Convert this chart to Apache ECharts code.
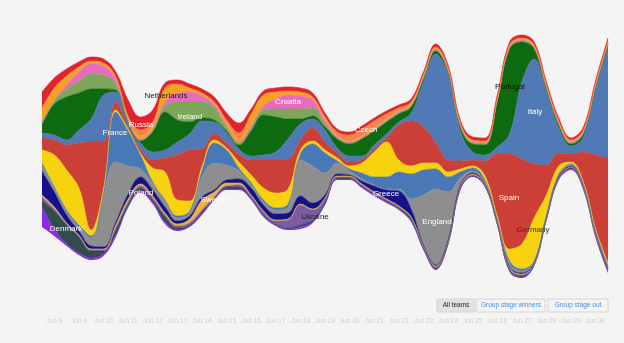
<!DOCTYPE html>
<html><head><meta charset="utf-8">
<script src="https://cdn.jsdelivr.net/npm/echarts@6/dist/echarts.min.js"></script>
<style>html,body{margin:0;padding:0;background:#f4f4f4}#c{width:624px;height:343px}</style>
</head><body><div id="c"></div>
<script>
// time points (half-day steps) and day tick labels
const timePoints = ["Jun 8 00h","Jun 8 12h","Jun 9 00h","Jun 9 12h","Jun 10 00h","Jun 10 12h","Jun 11 00h","Jun 11 12h","Jun 12 00h","Jun 12 12h","Jun 13 00h","Jun 13 12h","Jun 14 00h","Jun 14 12h","Jun 15 00h","Jun 15 12h","Jun 16 00h","Jun 16 12h","Jun 17 00h","Jun 17 12h","Jun 18 00h","Jun 18 12h","Jun 19 00h","Jun 19 12h","Jun 20 00h","Jun 20 12h","Jun 21 00h","Jun 21 12h","Jun 22 00h","Jun 22 12h","Jun 23 00h","Jun 23 12h","Jun 24 00h","Jun 24 12h","Jun 25 00h","Jun 25 12h","Jun 26 00h","Jun 26 12h","Jun 27 00h","Jun 27 12h","Jun 28 00h","Jun 28 12h","Jun 29 00h","Jun 29 12h","Jun 30 00h","Jun 30 12h","Jul 1 00h"];
const dayLabels = ["Jun 8","Jun 9","Jun 10","Jun 11","Jun 12","Jun 13","Jun 14","Jun 15","Jun 16","Jun 17","Jun 18","Jun 19","Jun 20","Jun 21","Jun 22","Jun 23","Jun 24","Jun 25","Jun 26","Jun 27","Jun 28","Jun 29","Jun 30"];

// stream baseline (offset under the bottom layer)
const baseline = [53,44,34,25,20,24,43,73,87,76,56,49,53,65,80,90,90,80,63,54,50,51,57,75,100,100,92,84,77,70,58,30,10,35,90,103,93,55,8,2,14,60,100,110,90,42,7];

// team layers (top to bottom)
const russia      = [16,10,7,5,4,4,5,16,13,12,5,4,4,4,5,7,10,5,4,4,4,4,4,4,3,3,3,3,3,3,3,3,3,3,3,3,3,3,3,3,3,3,3,2,3,3,3];
const czech       = [2,2,1,1,1,1,1,2,6,3,1,1,1,1,1,3,6,2,1,1,1,1,1,2,4,6,7,7,5,3,2,1,1,1,1,1,1,1,1,1,1,1,1,1,1,1,1];
const netherlands = [12,10,8,4,2,2,2,2,3,4,13,8,3,2,2,3,3,10,10,6,3,3,2,2,1,1,1,1,1,1,1,1,1,1,1,1,1,1,1,1,1,1,1,1,1,1,1];
const croatia     = [1,1,4,9,10,9,4,1,1,1,4,9,10,6,3,1,1,2,4,10,14,13,8,3,1,1,1,1,1,1,1,1,1,1,1,1,1,1,1,1,1,1,1,1,1,1,1];
const ireland     = [2,3,8,12,15,14,6,2,1,2,6,18,20,16,12,4,2,3,5,8,10,10,8,3,1,1,1,1,1,1,1,1,1,1,1,1,1,1,1,1,1,1,1,1,1,1,1];
const portugal    = [8,31,43,37,30,6,2,1,2,20,38,22,12,3,2,2,4,25,40,35,20,5,3,3,9,12,17,14,12,8,6,3,3,3,4,8,10,45,85,40,10,3,3,2,3,3,3];
const italy       = [5,5,5,13,23,47,10,3,6,8,8,13,16,28,12,10,5,4,5,8,20,16,9,12,5,6,4,4,4,3,8,45,89,85,30,8,6,7,20,77,105,73,25,8,15,65,110];
const spain       = [12,15,25,45,88,47,8,2,4,8,14,45,51,18,6,5,8,15,28,33,30,10,13,8,5,4,3,3,4,35,45,36,20,12,8,6,15,62,95,85,54,30,13,8,30,74,105];
const germany     = [13,32,40,37,6,3,2,2,2,14,28,16,10,4,3,2,6,8,12,15,15,4,3,3,3,3,10,25,35,12,8,7,6,5,3,2,4,3,12,25,43,20,8,2,2,2,3];
const france      = [3,2,2,2,2,3,50,35,14,2,2,2,2,6,20,15,3,2,2,2,3,6,22,20,2,2,6,8,12,17,25,25,20,15,6,3,2,1,3,2,1,1,1,1,1,1,1];
const england     = [5,3,3,4,8,52,60,28,8,6,5,3,3,20,27,15,8,3,3,4,6,36,37,22,11,4,2,1,1,2,10,50,76,48,7,2,2,2,3,2,1,1,1,1,1,1,1];
const greece      = [24,15,8,4,3,2,3,5,7,6,6,3,3,3,2,3,4,7,6,6,6,8,6,3,2,1,3,6,9,15,8,1,1,1,1,1,1,1,1,1,1,1,1,1,1,1,1];
const sweden      = [2,2,1,1,1,1,3,3,2,2,2,2,4,10,5,3,2,1,1,1,1,1,1,1,1,1,1,1,1,1,1,1,1,1,1,1,0,0,1,1,0,0,0,0,0,0,0];
const ukraine     = [4,2,1,1,1,1,2,2,2,2,2,2,2,2,1,1,2,2,3,3,8,20,10,3,1,1,1,1,1,1,1,1,1,1,1,1,1,1,1,1,1,1,1,1,1,1,1];
const denmark     = [6,18,19,16,7,3,5,3,3,2,5,2,1,2,1,2,2,1,1,1,1,2,2,2,1,1,1,1,1,1,2,1,1,1,1,0,0,0,1,1,0,0,1,1,1,2,2];
const poland      = [20,7,2,2,2,2,2,0,2,2,2,1,1,1,1,1,1,1,1,1,1,2,1,1,1,1,1,1,1,1,1,1,1,1,1,1,1,1,1,1,1,1,1,1,1,1,1];

const teams = [
  {name:'Russia', data:russia, color:'#e1232b'},
  {name:'Czech', data:czech, color:'#f2864a'},
  {name:'Netherlands', data:netherlands, color:'#f5a31c'},
  {name:'Croatia', data:croatia, color:'#e86cbd'},
  {name:'Ireland', data:ireland, color:'#7da65a'},
  {name:'Portugal', data:portugal, color:'#0d6a10'},
  {name:'Italy', data:italy, color:'#5079b5'},
  {name:'Spain', data:spain, color:'#cc3f37'},
  {name:'Germany', data:germany, color:'#f7d20f'},
  {name:'France', data:france, color:'#4878b6'},
  {name:'England', data:england, color:'#8e8e8e'},
  {name:'Greece', data:greece, color:'#13128c'},
  {name:'Sweden', data:sweden, color:'#efb03e'},
  {name:'Ukraine', data:ukraine, color:'#7d5ba3'},
  {name:'Denmark', data:denmark, color:'#2e4d4c'},
  {name:'Poland', data:poland, color:'#8b2be6'}
];

const FONT = 'Liberation Sans, Arial, sans-serif';
const streamLabels = [
  {text:'Netherlands', x:166, y:96, color:'#222'},
  {text:'Russia', x:141, y:125, color:'#fff'},
  {text:'France', x:115, y:133, color:'#fff'},
  {text:'Ireland', x:190, y:117, color:'#fff'},
  {text:'Croatia', x:288, y:102, color:'#fff'},
  {text:'Czech', x:366, y:130, color:'#fff'},
  {text:'Poland', x:141, y:193, color:'#fff'},
  {text:'Sweden', x:215, y:200, color:'#fff'},
  {text:'Ukraine', x:315, y:217, color:'#222'},
  {text:'Denmark', x:66, y:229, color:'#fff'},
  {text:'Greece', x:386, y:194, color:'#fff'},
  {text:'England', x:437, y:222, color:'#fff'},
  {text:'Portugal', x:510, y:87, color:'#111'},
  {text:'Italy', x:535, y:112, color:'#fff'},
  {text:'Spain', x:509, y:198, color:'#fff'},
  {text:'Germany', x:533, y:230, color:'#333'}
];
const buttons = [
  {text:'All teams', x:437, w:38, fill:'#e2e2e2', color:'#222'},
  {text:'Group stage winners', x:477, w:68, fill:'#f4f4f4', color:'#4a8fdc'},
  {text:'Group stage out', x:548, w:60, fill:'#f4f4f4', color:'#4a8fdc'}
];

const series = [{
  name:'baseline', type:'line', stack:'s', data:baseline, symbol:'none', smooth:0.4,
  lineStyle:{opacity:0}, silent:true, xAxisIndex:0
}];
teams.slice().reverse().forEach(t => {
  series.push({
    name:t.name, type:'line', stack:'s', data:t.data, symbol:'none', smooth:0.4, xAxisIndex:0,
    lineStyle:{width:0.6, color:t.color}, areaStyle:{color:t.color, opacity:1}, itemStyle:{color:t.color}
  });
});

const graphics = [];
streamLabels.forEach(l => graphics.push({
  type:'text', x:l.x, y:l.y, silent:true, z:100,
  style:{text:l.text, fill:l.color, font:'8px ' + FONT, align:'center', verticalAlign:'middle'}
}));
buttons.forEach(b => {
  graphics.push({type:'rect', shape:{x:b.x, y:299, width:b.w, height:13}, style:{fill:b.fill, stroke:'#d6d6d6', lineWidth:1}, z:100});
  graphics.push({type:'text', x:b.x + b.w/2, y:305.5, z:101,
    style:{text:b.text, fill:b.color, font:'6.5px ' + FONT, align:'center', verticalAlign:'middle'}});
});

const chart = echarts.init(document.getElementById('c'), null, {renderer:'canvas'});
chart.setOption({
  animation:false,
  backgroundColor:'#f4f4f4',
  grid:{left:42, right:16, top:30, bottom:63},
  xAxis:[
    {type:'category', data:timePoints, boundaryGap:false, show:false},
    {type:'category', data:dayLabels, boundaryGap:true, position:'bottom', offset:34,
     axisLine:{show:false}, axisTick:{show:false}, splitLine:{show:false},
     axisLabel:{color:'#cfcfcf', fontSize:6.5, fontFamily:FONT, margin:4, interval:0}}
  ],
  yAxis:{type:'value', min:0, max:250, show:false},
  series:series,
  graphic:graphics
});
</script>
</body></html>
